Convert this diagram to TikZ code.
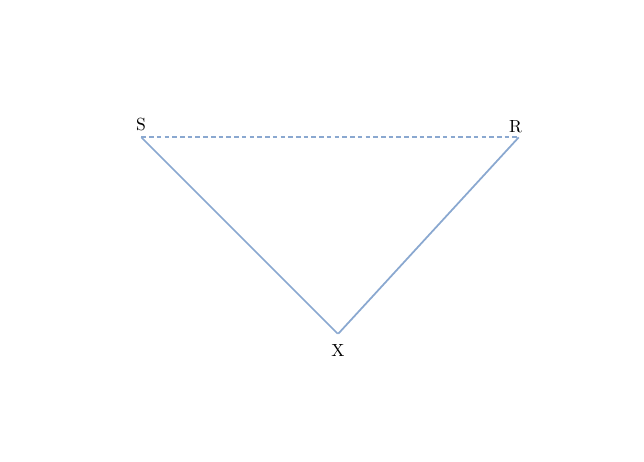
\documentclass[tikz,border=0pt]{standalone}
\usepackage{tikz}
\usetikzlibrary{positioning}
\definecolor{edgeblue}{RGB}{138,168,208}

\begin{document}
\begin{tikzpicture}[x=0.02cm, y=-0.02cm,
      every node/.style={font=\fontsize{10}{12}\selectfont},
      vertex/.style={inner sep=0pt, minimum size=0pt},
      edge/.style={draw=edgeblue, line width=1pt},
      link/.style={edge, dash pattern=on 2.6pt off 1.8pt}]
  \useasboundingbox (0,0) rectangle (644,461);
  \node [vertex] (S) at (141,137) {};
  \node [vertex] (R) at (519,137) {};
  \node [vertex] (X) at (338,334) {};
  \node [above=2.3pt of S, inner sep=1pt] (Slab) {S};
  \node [above=1.2pt of R, inner sep=1pt, xshift=-2pt] (Rlab) {R};
  \node [below=4.4pt of X, inner sep=1pt] (Xlab) {X};
  \draw [link] (S) -- (R);
  \draw [edge] (S) -- (X) -- (R);
\end{tikzpicture}
\end{document}
